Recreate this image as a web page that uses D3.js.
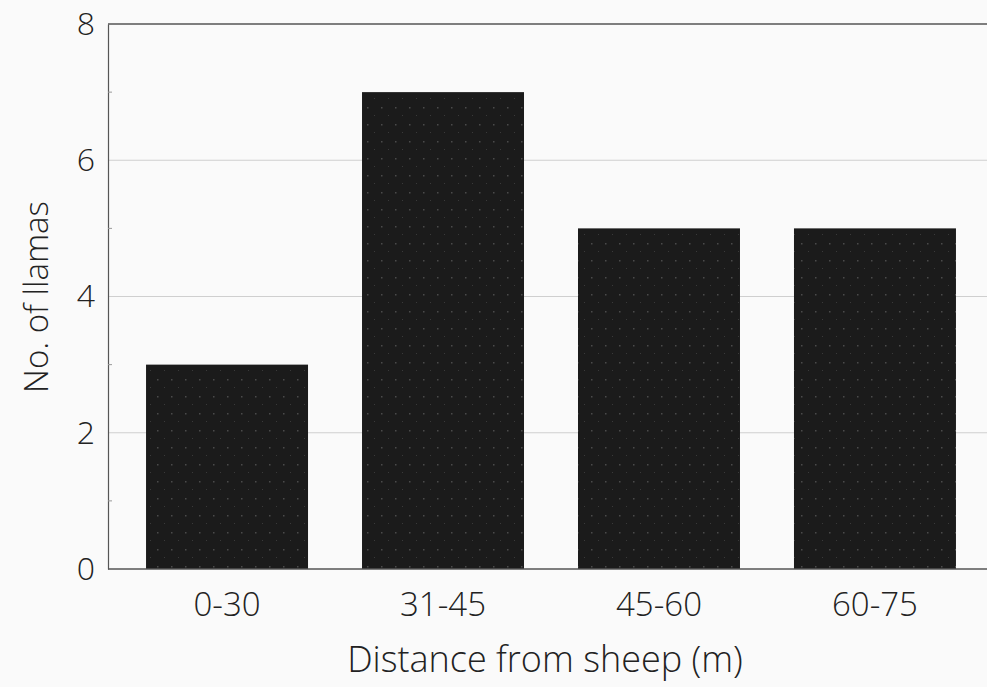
<!DOCTYPE html>
<html>
<head>
<meta charset="utf-8">
<script src="https://cdn.jsdelivr.net/npm/d3@7"></script>
<style>
  body { margin: 0; background: #fafafa; }
  text { font-family: "Open Sans", "DejaVu Sans", sans-serif; font-weight: 300; fill: #222; }
</style>
</head>
<body>
<div id="chart"></div>
<script>
var categories = ["0-30", "31-45", "45-60", "60-75"];
var llamas = [3, 7, 5, 5];
var yTicks = [0, 2, 4, 6, 8];
var yMinor = [1, 3, 5, 7];

const width = 987;
const height = 687;

// plot area edges
const padding = { top: 24, right: 0, bottom: 118, left: 108 };

var svg = d3.select("#chart").append("svg")
  .attr("width", width)
  .attr("height", height);

svg.append("rect").attr("width", width).attr("height", height).attr("fill", "#fafafa");

// speckled fill for the bars
var defs = svg.append("defs");
var pat = defs.append("pattern")
  .attr("id", "speckle")
  .attr("patternUnits", "userSpaceOnUse")
  .attr("width", 14).attr("height", 17);
pat.append("rect").attr("width", 14).attr("height", 17).attr("fill", "#1b1b1b");
pat.append("rect").attr("x", 3).attr("y", 5).attr("width", 1.5).attr("height", 1.5).attr("fill", "#4a4a4a");
pat.append("rect").attr("x", 10).attr("y", 13).attr("width", 1).attr("height", 1).attr("fill", "#3a3a3a");

var xScale = d3.scaleBand()
  .domain(categories)
  .range([105, 997])
  .paddingInner(0.25)
  .paddingOuter(0.19);

var yScale = d3.scaleLinear()
  .domain([0, 8])
  .range([height - padding.bottom, padding.top]);

// gridlines
svg.append("g").selectAll("line")
  .data(yTicks.filter(function(d){ return d > 0 && d < 8; }))
  .enter().append("line")
  .attr("x1", padding.left).attr("x2", width)
  .attr("y1", d => yScale(d)).attr("y2", d => yScale(d))
  .attr("stroke", "#cfcfcf").attr("stroke-width", 1);

// top frame line
svg.append("line")
  .attr("x1", padding.left).attr("x2", width)
  .attr("y1", yScale(8)).attr("y2", yScale(8))
  .attr("stroke", "#555").attr("stroke-width", 1.5);

// bars
svg.append("g").selectAll("rect")
  .data(llamas)
  .enter().append("rect")
  .attr("x", (d, i) => xScale(categories[i]))
  .attr("width", xScale.bandwidth())
  .attr("y", d => yScale(d))
  .attr("height", d => yScale(0) - yScale(d))
  .attr("fill", "url(#speckle)");

// y axis
var yAxis = svg.append("g")
  .attr("transform", "translate(" + padding.left + ",0)")
  .call(d3.axisLeft(yScale).tickValues(yTicks).tickSize(0).tickPadding(13));
yAxis.select(".domain").attr("stroke", "#555").attr("stroke-width", 1.2);
yAxis.selectAll("text").style("font-size", "32px").attr("fill", "#222");

// minor ticks inside
svg.append("g").selectAll("line")
  .data(yMinor)
  .enter().append("line")
  .attr("x1", padding.left).attr("x2", padding.left + 4)
  .attr("y1", d => yScale(d)).attr("y2", d => yScale(d))
  .attr("stroke", "#999");

// x axis
var xAxis = svg.append("g")
  .attr("transform", "translate(0," + yScale(0) + ")")
  .call(d3.axisBottom(xScale).tickSize(0).tickPadding(24));
xAxis.select(".domain").remove();
xAxis.selectAll("text").style("font-size", "33px").attr("fill", "#222");
svg.append("line")
  .attr("x1", padding.left).attr("x2", width)
  .attr("y1", yScale(0)).attr("y2", yScale(0))
  .attr("stroke", "#555").attr("stroke-width", 1.5);

// axis titles
svg.append("text")
  .attr("x", 545).attr("y", 672)
  .attr("text-anchor", "middle")
  .style("font-size", "36px")
  .text("Distance from sheep (m)");

svg.append("text")
  .attr("transform", "translate(48,297) rotate(-90)")
  .attr("text-anchor", "middle")
  .style("font-size", "33px")
  .text("No. of llamas");
</script>
</body>
</html>
